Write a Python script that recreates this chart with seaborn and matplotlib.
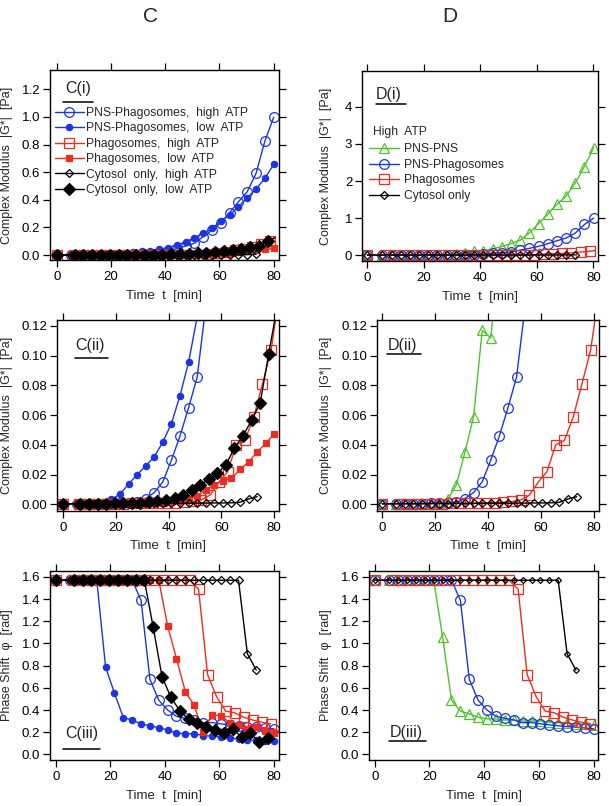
import matplotlib
matplotlib.use("Agg")
import matplotlib.pyplot as plt
import seaborn as sns

sns.set_style("ticks")
plt.rcParams['font.family'] = ['Liberation Sans', 'DejaVu Sans']

# time points [min]
t_main = [0, 5.3, 8.55, 11.8, 15.05, 18.3, 21.55, 24.8, 28.05, 31.3, 34.55, 37.8, 41.05,
          44.3, 47.55, 50.8, 54.05, 57.3, 60.55, 63.8, 67.05, 70.3, 73.55, 76.8, 80.05]
t_cyto_high = t_main[:23]
t_phago_high = [0, 6.2, 9.5, 12.8, 16.1, 19.4, 22.7, 26.0, 29.3, 32.6, 35.9, 39.2, 42.5,
                45.8, 49.1, 52.4, 55.7, 59.0, 62.3, 65.6, 68.9, 72.2, 75.5, 78.8]
t_cyto_low = [0, 6.6, 9.84, 13.08, 16.32, 19.56, 22.8, 26.04, 29.28, 32.52, 35.76, 39.0, 42.24,
              45.48, 48.72, 51.96, 55.2, 58.44, 61.68, 64.92, 68.16, 71.4, 74.64, 77.88]

# complex modulus |G*| [Pa]
g_pns_phago_high = [0.0005, 0.0005, 0.0005, 0.0005, 0.0006, 0.0007, 0.0008, 0.001, 0.0015, 0.004,
                    0.008, 0.0152, 0.0298, 0.046, 0.065, 0.0856, 0.133, 0.181, 0.234, 0.307,
                    0.386, 0.459, 0.592, 0.826, 0.998]
g_pns_phago_low = [0.0005, 0.0005, 0.0006, 0.0008, 0.0012, 0.0035, 0.0069, 0.0137, 0.020, 0.026,
                   0.032, 0.042, 0.0544, 0.0732, 0.0956, 0.126, 0.157, 0.193, 0.246, 0.29,
                   0.35, 0.415, 0.478, 0.556, 0.657]
g_phago_high = [0.0004, 0.0004, 0.0005, 0.0005, 0.0005, 0.0006, 0.0006, 0.0007, 0.0008, 0.0009,
                0.001, 0.001, 0.0012, 0.0015, 0.002, 0.003, 0.0063, 0.015, 0.022, 0.040,
                0.043, 0.0585, 0.0807, 0.1035]
g_phago_low = [0.0004, 0.0004, 0.0005, 0.0005, 0.0005, 0.0006, 0.0006, 0.0007, 0.0008, 0.0009,
               0.001, 0.0012, 0.0015, 0.002, 0.0035, 0.006, 0.010, 0.013, 0.016, 0.0175,
               0.0235, 0.0287, 0.0352, 0.0412, 0.0475]
g_cyto_high = [0.0005, 0.0005, 0.0005, 0.0005, 0.0005, 0.0006, 0.0006, 0.0006, 0.0006, 0.0007,
               0.0007, 0.0007, 0.0008, 0.0008, 0.0008, 0.0009, 0.0009, 0.001, 0.001, 0.0011,
               0.0015, 0.0037, 0.0052]
g_cyto_low = [0.0005, 0.0005, 0.0005, 0.0006, 0.0006, 0.0007, 0.0007, 0.0008, 0.001, 0.0015,
              0.002, 0.003, 0.0045, 0.0062, 0.0095, 0.013, 0.017, 0.021, 0.0265, 0.038,
              0.0462, 0.0565, 0.068, 0.101]
g_pns_pns = [0.0005, 0.0005, 0.0006, 0.0006, 0.0007, 0.0009, 0.0012, 0.0035, 0.0133, 0.0354,
             0.059, 0.117, 0.112, 0.17, 0.23, 0.31, 0.40, 0.60, 0.85, 1.10,
             1.37, 1.59, 1.95, 2.39, 2.90]
# end points of the fitted curves beyond the last measured point
fit_end_t = 80.5
fit_end_phago_high = 0.124
fit_end_cyto_low = 0.127

# phase shift phi [rad]
p_pns_phago_high = [1.5708, 1.5708, 1.5708, 1.5708, 1.5708, 1.5708, 1.5708, 1.5708, 1.5708, 1.39,
                    0.677, 0.488, 0.40, 0.343, 0.325, 0.31, 0.285, 0.287, 0.275, 0.266,
                    0.258, 0.25, 0.245, 0.238, 0.23]
p_pns_phago_low = [1.5708, 1.5708, 1.5708, 1.5708, 1.5708, 0.785, 0.553, 0.331, 0.31, 0.274,
                   0.258, 0.24, 0.22, 0.19, 0.187, 0.186, 0.17, 0.165, 0.155, 0.148,
                   0.14, 0.128, 0.125, 0.122, 0.118]
p_phago_high = [1.5708, 1.5708, 1.5708, 1.5708, 1.5708, 1.5708, 1.5708, 1.5708, 1.5708, 1.5708,
                1.5708, 1.5708, 1.5708, 1.5708, 1.5708, 1.49, 0.72, 0.52, 0.39, 0.375,
                0.335, 0.31, 0.29, 0.275]
p_phago_low = [1.5708, 1.5708, 1.5708, 1.5708, 1.5708, 1.5708, 1.5708, 1.5708, 1.5708, 1.5708,
               1.5708, 1.5708, 1.158, 0.863, 0.565, 0.442, 0.198, 0.358, 0.349, 0.286,
               0.262, 0.232, 0.25, 0.214, 0.195]
p_cyto_high = [1.5708, 1.5708, 1.5708, 1.5708, 1.5708, 1.5708, 1.5708, 1.5708, 1.5708, 1.5708,
               1.5708, 1.5708, 1.5708, 1.5708, 1.5708, 1.5708, 1.5708, 1.5708, 1.5708, 1.5708,
               1.5708, 0.908, 0.76]
p_cyto_low = [1.5708, 1.5708, 1.5708, 1.5708, 1.5708, 1.5708, 1.5708, 1.5708, 1.5708, 1.5708,
              1.146, 0.70, 0.515, 0.394, 0.316, 0.282, 0.247, 0.217, 0.192, 0.225,
              0.16, 0.193, 0.108, 0.147]
p_pns_pns = [1.5708, 1.5708, 1.5708, 1.5708, 1.5708, 1.5708, 1.5708, 1.06, 0.49, 0.39,
             0.365, 0.335, 0.32, 0.32, 0.31, 0.31, 0.30, 0.30, 0.30, 0.29,
             0.285, 0.28, 0.275, 0.27, 0.265]

blue = "#1c34e4"
red = "#ee2c20"
green = "#4cc42a"
black = "black"


def draw(ax, t, y, color, marker, ms, filled, label=None):
    sns.lineplot(x=t, y=y, ax=ax, color=color, marker=marker, markersize=ms,
                 markerfacecolor=color if filled else "none", markeredgecolor=color,
                 markeredgewidth=0.9, linewidth=1.0, estimator=None, sort=False,
                 label=label)


def style(ax, xlim, ylim, yticks, yfmt, ylabel, xlabel, ylab_x, xlab_y):
    ax.set_xlim(*xlim)
    ax.set_ylim(*ylim)
    ax.set_xticks([0, 20, 40, 60, 80])
    ax.set_yticks(yticks)
    ax.set_yticklabels([yfmt.format(v) for v in yticks])
    ax.tick_params(direction="out", length=5, width=0.9, top=True, right=True,
                   labelsize=9.5, colors="black")
    ax.tick_params(axis="x", pad=3)
    ax.tick_params(axis="y", pad=2)
    for s in ax.spines.values():
        s.set_visible(True)
        s.set_linewidth(1.0)
        s.set_color("black")
    ax.set_ylabel(ylabel, fontsize=9)
    ax.set_xlabel(xlabel, fontsize=9.5)
    ax.yaxis.set_label_coords(ylab_x, 0.5)
    ax.xaxis.set_label_coords(0.5, xlab_y)


def panel_label(ax, text, x, y, ux0, ux1, uy):
    ax.text(x, y, text, transform=ax.transAxes, fontsize=11.5, ha="left", va="center")
    ax.plot([ux0, ux1], [uy, uy], transform=ax.transAxes, color="black", lw=1.1,
            clip_on=False)


fig = plt.figure(figsize=(6.09, 8.06), dpi=100)
W, H = 609, 806


def axes_px(x0, x1, y0, y1):
    return fig.add_axes([x0 / W, 1 - y1 / H, (x1 - x0) / W, (y1 - y0) / H])


ax_ci = axes_px(50, 279, 70, 260)
ax_di = axes_px(362, 598, 71, 261)
ax_cii = axes_px(57, 279, 320, 511)
ax_dii = axes_px(377, 599, 320, 511)
ax_ciii = axes_px(50, 279, 571, 760)
ax_diii = axes_px(369, 598, 571, 760)

gl = "Complex Modulus  |G*|  [Pa]"
pl = "Phase Shift  \u03c6  [rad]"
tl = "Time  t  [min]"

# ---- C panels: all six conditions
for ax in [ax_ci, ax_cii]:
    draw(ax, t_main, g_pns_phago_high, blue, "o", 7, False, "PNS-Phagosomes,  high  ATP")
    draw(ax, t_main, g_pns_phago_low, blue, "o", 4.5, True, "PNS-Phagosomes,  low  ATP")
    draw(ax, t_phago_high, g_phago_high, red, "s", 7, False, "Phagosomes,  high  ATP")
    draw(ax, [t_phago_high[-1], fit_end_t], [g_phago_high[-1], fit_end_phago_high], red, None, 0, False)
    draw(ax, t_main, g_phago_low, red, "s", 4.5, True, "Phagosomes,  low  ATP")
    draw(ax, t_cyto_high, g_cyto_high, black, "D", 4.5, False, "Cytosol  only,  high  ATP")
    draw(ax, t_cyto_low, g_cyto_low, black, "D", 6, True, "Cytosol  only,  low  ATP")
    draw(ax, [t_cyto_low[-1], fit_end_t], [g_cyto_low[-1], fit_end_cyto_low], black, None, 0, False)

draw(ax_ciii, t_main, p_pns_phago_high, blue, "o", 7, False)
draw(ax_ciii, t_main, p_pns_phago_low, blue, "o", 4.5, True)
draw(ax_ciii, t_phago_high, p_phago_high, red, "s", 7, False)
draw(ax_ciii, t_main, p_phago_low, red, "s", 4.5, True)
draw(ax_ciii, t_cyto_high, p_cyto_high, black, "D", 4.5, False)
draw(ax_ciii, t_cyto_low, p_cyto_low, black, "D", 6, True)

# ---- D panels: high ATP
for ax in [ax_di, ax_dii]:
    draw(ax, t_main, g_pns_pns, green, "^", 7, False, "PNS-PNS")
    draw(ax, t_main, g_pns_phago_high, blue, "o", 7, False, "PNS-Phagosomes")
    draw(ax, t_phago_high, g_phago_high, red, "s", 7, False, "Phagosomes")
    draw(ax, [t_phago_high[-1], fit_end_t], [g_phago_high[-1], fit_end_phago_high], red, None, 0, False)
    draw(ax, t_cyto_high, g_cyto_high, black, "D", 4.5, False, "Cytosol only")

draw(ax_diii, t_main, p_pns_pns, green, "^", 7, False)
draw(ax_diii, t_main, p_pns_phago_high, blue, "o", 7, False)
draw(ax_diii, t_phago_high, p_phago_high, red, "s", 7, False)
draw(ax_diii, t_cyto_high, p_cyto_high, black, "D", 3, False)

# legends
h, l = ax_ci.get_legend_handles_labels()
keep = [i for i, s in enumerate(l) if not s.startswith("_")]
ax_ci.legend([h[i] for i in keep], [l[i] for i in keep], loc="upper left",
             bbox_to_anchor=(0.02, 0.805), frameon=False, fontsize=8.7, handlelength=2.4,
             handletextpad=0.2, labelspacing=0.28, borderaxespad=0, borderpad=0)
if ax_cii.get_legend():
    ax_cii.get_legend().remove()
h, l = ax_di.get_legend_handles_labels()
keep = [i for i, s in enumerate(l) if not s.startswith("_")]
ax_di.text(0.045, 0.679, "High  ATP", transform=ax_di.transAxes, fontsize=8.7, va="center")
ax_di.legend([h[i] for i in keep], [l[i] for i in keep], loc="upper left",
             bbox_to_anchor=(0.028, 0.62), frameon=False, fontsize=8.7, handlelength=2.5,
             handletextpad=0.4, labelspacing=0.3, borderaxespad=0, borderpad=0)
if ax_dii.get_legend():
    ax_dii.get_legend().remove()

style(ax_ci, (-2.5, 82), (-0.036, 1.34), [0, 0.2, 0.4, 0.6, 0.8, 1.0, 1.2], "{:.1f}", gl, tl, -0.162, -0.158)
style(ax_di, (-1.9, 81.6), (-0.16, 4.97), [0, 1, 2, 3, 4], "{:.0f}", gl, tl, -0.129, -0.158)
style(ax_cii, (-2.3, 81.8), (-0.0044, 0.124), [0, 0.02, 0.04, 0.06, 0.08, 0.10, 0.12], "{:.2f}", gl, tl, -0.2, -0.15)
style(ax_dii, (-2.0, 82), (-0.0044, 0.124), [0, 0.02, 0.04, 0.06, 0.08, 0.10, 0.12], "{:.2f}", gl, tl, -0.201, -0.15)
style(ax_ciii, (-2.1, 81.9), (-0.051, 1.654), [0, 0.2, 0.4, 0.6, 0.8, 1.0, 1.2, 1.4, 1.6], "{:.1f}", pl, tl, -0.161, -0.159)
style(ax_diii, (-2.1, 81.6), (-0.051, 1.654), [0, 0.2, 0.4, 0.6, 0.8, 1.0, 1.2, 1.4, 1.6], "{:.1f}", pl, tl, -0.162, -0.159)

panel_label(ax_ci, "C(i)", 0.066, 0.905, 0.057, 0.188, 0.833)
panel_label(ax_di, "D(i)", 0.058, 0.877, 0.058, 0.185, 0.825)
panel_label(ax_cii, "C(ii)", 0.084, 0.864, 0.08, 0.23, 0.803)
panel_label(ax_dii, "D(ii)", 0.05, 0.864, 0.047, 0.196, 0.82)
panel_label(ax_ciii, "C(iii)", 0.065, 0.14, 0.057, 0.218, 0.057)
panel_label(ax_diii, "D(iii)", 0.092, 0.143, 0.088, 0.25, 0.1)

fig.text(150 / W, 1 - 16 / H, "C", ha="center", va="center", fontsize=15)
fig.text(450 / W, 1 - 16 / H, "D", ha="center", va="center", fontsize=15)

fig.savefig("out.png", dpi=100)
